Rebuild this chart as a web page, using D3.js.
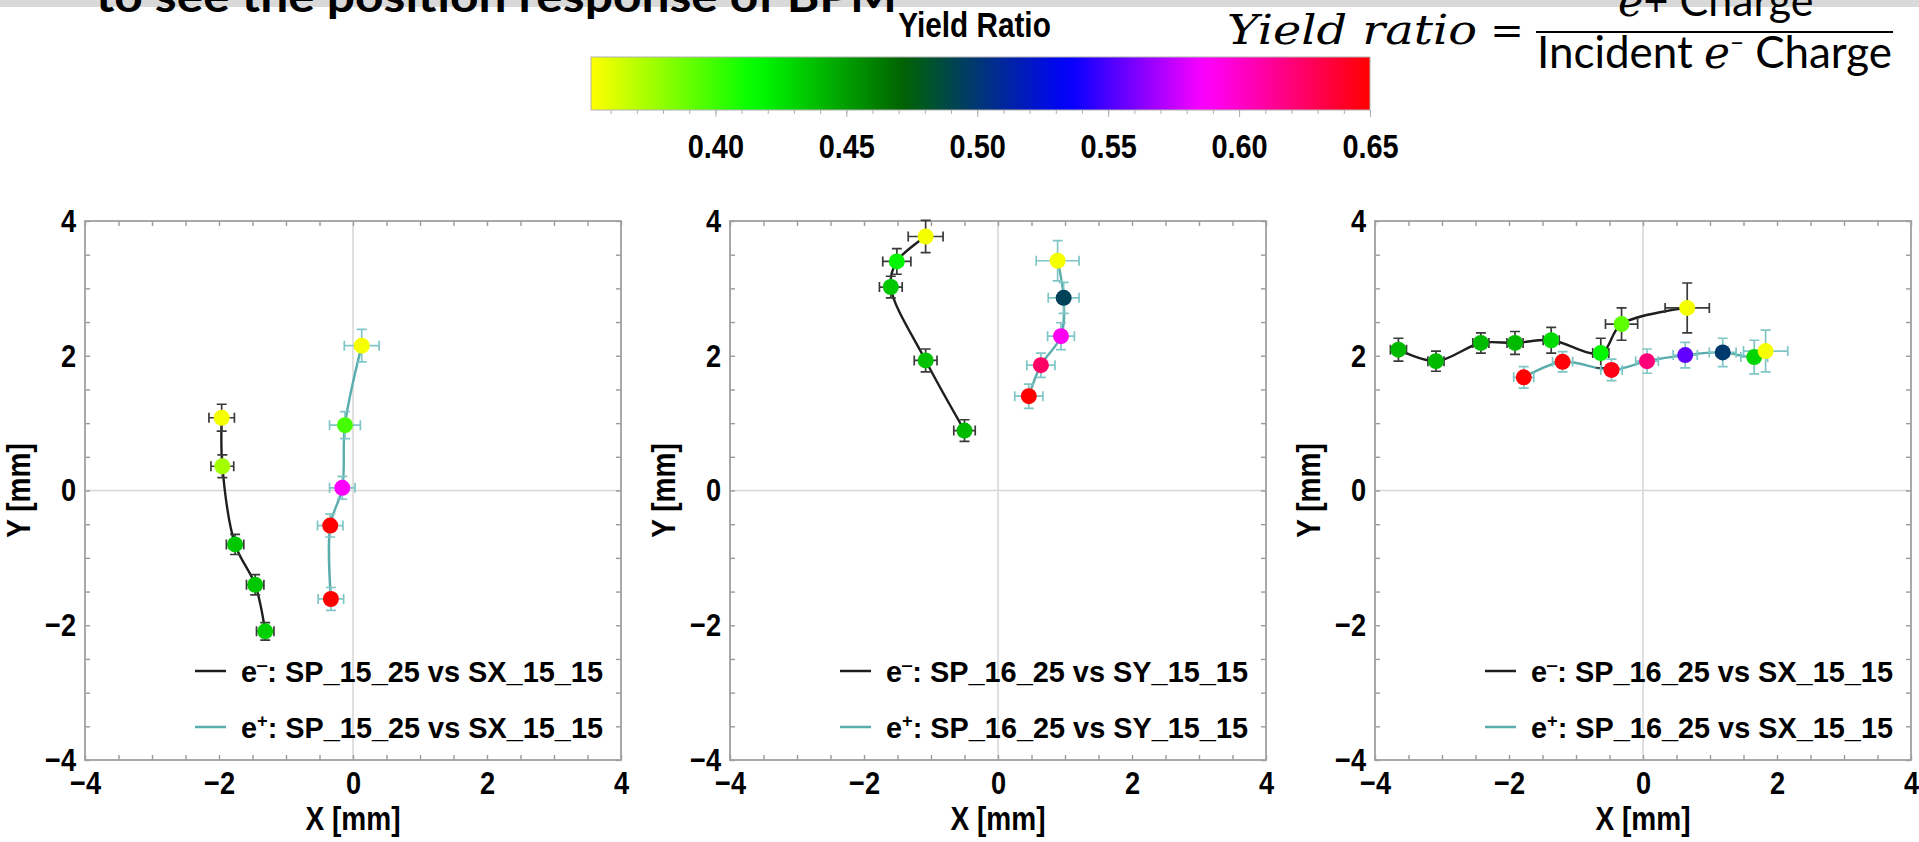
<!DOCTYPE html>
<html>
<head>
<meta charset="utf-8">
<script src="https://cdn.jsdelivr.net/npm/d3@7"></script>
<style>
body { margin: 0; background: #fff; }
svg { display: block; }
.lab { font-family: "Liberation Sans", Arial, sans-serif; font-weight: bold; fill: #000; }
</style>
</head>
<body>
<svg id="chart" width="1919" height="842"></svg>
<script>
// ---- data ----
const axisTicks = [-4, -2, 0, 2, 4];
const ratioTicks = [0.40, 0.45, 0.50, 0.55, 0.60, 0.65];
const ratioStops = [0.3525, 0.415, 0.471, 0.535, 0.587, 0.65];
const ratioColors = ['#ffff00', '#00ff00', '#006400', '#0000ff', '#ff00ff', '#ff0000'];

// x, y in mm; dx, dy error; r = yield ratio (colour)
const p1Minus = [
  {x: -1.96, y: 1.08, dx: 0.19, dy: 0.20, r: 0.355},
  {x: -1.95, y: 0.36, dx: 0.17, dy: 0.17, r: 0.375},
  {x: -1.76, y: -0.80, dx: 0.13, dy: 0.15, r: 0.435},
  {x: -1.46, y: -1.40, dx: 0.13, dy: 0.15, r: 0.435},
  {x: -1.31, y: -2.09, dx: 0.13, dy: 0.13, r: 0.432}
];
const p1Plus = [
  {x: 0.13, y: 2.15, dx: 0.26, dy: 0.24, r: 0.355},
  {x: -0.12, y: 0.97, dx: 0.23, dy: 0.20, r: 0.398},
  {x: -0.16, y: 0.04, dx: 0.19, dy: 0.17, r: 0.587},
  {x: -0.34, y: -0.52, dx: 0.19, dy: 0.17, r: 0.65},
  {x: -0.33, y: -1.61, dx: 0.19, dy: 0.17, r: 0.65}
];
const p2Minus = [
  {x: -1.08, y: 3.77, dx: 0.26, dy: 0.24, r: 0.355},
  {x: -1.51, y: 3.40, dx: 0.21, dy: 0.19, r: 0.418},
  {x: -1.60, y: 3.02, dx: 0.17, dy: 0.16, r: 0.435},
  {x: -1.08, y: 1.93, dx: 0.17, dy: 0.17, r: 0.437},
  {x: -0.50, y: 0.89, dx: 0.16, dy: 0.16, r: 0.44}
];
const p2Plus = [
  {x: 0.89, y: 3.41, dx: 0.32, dy: 0.30, r: 0.355},
  {x: 0.98, y: 2.86, dx: 0.23, dy: 0.23, r: 0.493},
  {x: 0.94, y: 2.29, dx: 0.20, dy: 0.20, r: 0.59},
  {x: 0.64, y: 1.86, dx: 0.21, dy: 0.18, r: 0.625},
  {x: 0.46, y: 1.40, dx: 0.21, dy: 0.18, r: 0.65}
];
const p3Minus = [
  {x: -3.65, y: 2.09, dx: 0.12, dy: 0.17, r: 0.44},
  {x: -3.09, y: 1.92, dx: 0.12, dy: 0.15, r: 0.44},
  {x: -2.42, y: 2.19, dx: 0.12, dy: 0.15, r: 0.44},
  {x: -1.91, y: 2.19, dx: 0.12, dy: 0.17, r: 0.44},
  {x: -1.37, y: 2.23, dx: 0.12, dy: 0.19, r: 0.428},
  {x: -0.63, y: 2.04, dx: 0.12, dy: 0.22, r: 0.418},
  {x: -0.32, y: 2.47, dx: 0.24, dy: 0.24, r: 0.392},
  {x: 0.66, y: 2.71, dx: 0.33, dy: 0.37, r: 0.355}
];
const p3Plus = [
  {x: -1.78, y: 1.68, dx: 0.15, dy: 0.16, r: 0.65},
  {x: -1.20, y: 1.91, dx: 0.15, dy: 0.15, r: 0.648},
  {x: -0.47, y: 1.79, dx: 0.16, dy: 0.16, r: 0.645},
  {x: 0.06, y: 1.92, dx: 0.17, dy: 0.18, r: 0.62},
  {x: 0.63, y: 2.01, dx: 0.18, dy: 0.19, r: 0.555},
  {x: 1.19, y: 2.05, dx: 0.20, dy: 0.21, r: 0.498},
  {x: 1.66, y: 1.98, dx: 0.20, dy: 0.25, r: 0.43},
  {x: 1.83, y: 2.07, dx: 0.33, dy: 0.31, r: 0.355}
];
const legendLabels = [
  'SP_15_25 vs SX_15_15',
  'SP_16_25 vs SY_15_15',
  'SP_16_25 vs SX_15_15'
];

// ---- layout ----
const panelLeft = [85, 730, 1375];
const panelTop = 221, panelW = 536, panelH = 539;
const squeezeK = 0.85;  // condensed look of the plot labels
const minusLine = '#1e1e1e', minusErr = '#3a3a3a';
const plusLine = '#5aadad', plusErr = '#80c6c6';

const svg = d3.select('#chart');
const ratioColor = d3.scaleLinear().domain(ratioStops).range(ratioColors).interpolate(d3.interpolateRgb);

// squeeze text horizontally around its own anchor
function squeeze(sel, k) {
  sel.each(function() {
    const t = d3.select(this);
    const x = +t.attr('x') || 0;
    t.attr('x', x / k).attr('transform', `scale(${k},1)`);
  });
}

// top banner (bottom of the slide title)
svg.append('rect').attr('x', 0).attr('y', 0).attr('width', 1919).attr('height', 7).attr('fill', '#d9d9d9');
svg.append('text')
  .attr('x', 96).attr('y', 12)
  .attr('textLength', 801).attr('lengthAdjust', 'spacingAndGlyphs')
  .style('font-family', 'Lato, "Liberation Sans", sans-serif').style('font-weight', 'bold').style('font-size', '44px')
  .text('to see the position response of BPM');

// formula
svg.append('text')
  .attr('x', 1227).attr('y', 44)
  .attr('textLength', 250).attr('lengthAdjust', 'spacingAndGlyphs')
  .style('font-family', '"DejaVu Serif", serif').style('font-style', 'italic').style('font-size', '41px')
  .text('Yield ratio');
svg.append('text')
  .attr('x', 1507).attr('y', 44).attr('text-anchor', 'middle')
  .style('font-family', '"DejaVu Serif", serif').style('font-size', '40px')
  .text('=');
svg.append('line').attr('x1', 1536).attr('x2', 1893).attr('y1', 32).attr('y2', 32)
  .attr('stroke', '#000').attr('stroke-width', 2);
const num = svg.append('text')
  .attr('x', 1618).attr('y', 16)
  .style('font-family', 'Lato, "Open Sans", sans-serif').style('font-size', '43px');
num.append('tspan').style('font-family', '"DejaVu Serif", serif').style('font-style', 'italic').text('e');
num.append('tspan').text('+ Charge');
const den = svg.append('text')
  .attr('x', 1537).attr('y', 68)
  .attr('textLength', 355).attr('lengthAdjust', 'spacingAndGlyphs')
  .style('font-family', 'Lato, "Open Sans", sans-serif').style('font-size', '44px');
den.append('tspan').text('Incident ');
den.append('tspan').style('font-family', '"DejaVu Serif", serif').style('font-style', 'italic').text('e');
den.append('tspan').attr('dy', -17).style('font-size', '26px').text('\u2012');
den.append('tspan').attr('dy', 17).text(' Charge');

// colour bar
const cbX = 591, cbY = 57, cbW = 779, cbH = 53;
const cScale = d3.scaleLinear().domain([0.3525, 0.65]).range([0, cbW]);
const grad = svg.append('defs').append('linearGradient').attr('id', 'ratioGrad')
  .attr('x1', '0%').attr('x2', '100%').attr('y1', '0%').attr('y2', '0%');
d3.range(0, 1.0001, 0.02).forEach(t => {
  grad.append('stop').attr('offset', (t * 100) + '%').attr('stop-color', ratioColor(0.3525 + t * (0.65 - 0.3525)));
});
const cb = svg.append('g').attr('transform', `translate(${cbX},${cbY})`);
cb.append('rect').attr('width', cbW).attr('height', cbH).attr('fill', 'url(#ratioGrad)')
  .attr('stroke', '#b0b0b0').attr('stroke-width', 1);
const cbMinor = cb.append('g').attr('transform', `translate(0,${cbH})`)
  .call(d3.axisBottom(cScale).tickValues(d3.range(36, 66).map(v => v / 100)).tickSize(4).tickFormat(''));
const cbMajor = cb.append('g').attr('transform', `translate(0,${cbH})`)
  .call(d3.axisBottom(cScale).tickValues(ratioTicks).tickSize(7).tickPadding(17).tickFormat(d3.format('.2f')));
[cbMinor, cbMajor].forEach(a => {
  a.select('.domain').remove();
  a.selectAll('line').attr('stroke', '#b0b0b0');
});
cbMajor.selectAll('text').attr('class', 'lab').style('font-size', '34px').call(squeeze, squeezeK);
cb.append('text').attr('class', 'lab')
  .attr('transform', `translate(${cbW / 2 - 6},-20) scale(${squeezeK},1)`)
  .attr('text-anchor', 'middle')
  .style('font-size', '35px').text('Yield Ratio');

// ---- panels ----
const panelData = [[p1Minus, p1Plus], [p2Minus, p2Plus], [p3Minus, p3Plus]];

panelData.forEach((series, i) => {
  const g = svg.append('g').attr('transform', `translate(${panelLeft[i]},${panelTop})`);
  const x = d3.scaleLinear().domain([-4, 4]).range([0, panelW]);
  const y = d3.scaleLinear().domain([-4, 4]).range([panelH, 0]);

  // zero lines
  g.append('line').attr('x1', x(0)).attr('x2', x(0)).attr('y1', 0).attr('y2', panelH)
    .attr('stroke', '#d6d6d6').attr('stroke-width', 1.5);
  g.append('line').attr('x1', 0).attr('x2', panelW).attr('y1', y(0)).attr('y2', y(0))
    .attr('stroke', '#d6d6d6').attr('stroke-width', 1.5);

  // inner ticks on all four sides
  const minor = d3.range(-4, 4.001, 0.5);
  const tickAxes = [
    g.append('g').attr('transform', `translate(0,${panelH})`).call(d3.axisBottom(x).tickValues(minor).tickSize(-5).tickFormat('')),
    g.append('g').call(d3.axisTop(x).tickValues(minor).tickSize(-5).tickFormat('')),
    g.append('g').call(d3.axisLeft(y).tickValues(minor).tickSize(-5).tickFormat('')),
    g.append('g').attr('transform', `translate(${panelW},0)`).call(d3.axisRight(y).tickValues(minor).tickSize(-5).tickFormat(''))
  ];
  tickAxes.forEach(a => {
    a.select('.domain').remove();
    a.selectAll('line').attr('stroke', '#9a9a9a').attr('stroke-width', 1.4);
  });

  // tick labels
  const xl = g.append('g').attr('transform', `translate(0,${panelH})`)
    .call(d3.axisBottom(x).tickValues(axisTicks).tickSize(0).tickPadding(11).tickFormat(d3.format('d')));
  const yl = g.append('g')
    .call(d3.axisLeft(y).tickValues(axisTicks).tickSize(0).tickPadding(9).tickFormat(d3.format('d')));
  [xl, yl].forEach(a => {
    a.select('.domain').remove();
    a.selectAll('text').attr('class', 'lab').style('font-size', '32px').call(squeeze, squeezeK);
  });

  // frame
  g.append('rect').attr('width', panelW).attr('height', panelH)
    .attr('fill', 'none').attr('stroke', '#a0a0a0').attr('stroke-width', 1.8);

  // axis titles
  g.append('text').attr('class', 'lab')
    .attr('transform', `translate(${panelW / 2},597) scale(${squeezeK},1)`)
    .attr('text-anchor', 'middle').attr('dy', '0.35em')
    .style('font-size', '33px').text('X [mm]');
  g.append('text').attr('class', 'lab')
    .attr('transform', `translate(-67,${y(0)}) rotate(-90) scale(${squeezeK},1)`)
    .attr('text-anchor', 'middle').attr('dy', '0.35em')
    .style('font-size', '33px').text('Y [mm]');

  // series: e- then e+
  const styles = [{line: minusLine, err: minusErr}, {line: plusLine, err: plusErr}];
  const line = d3.line().x(d => x(d.x)).y(d => y(d.y)).curve(d3.curveCatmullRom.alpha(0.5));
  series.forEach((pts, s) => {
    g.append('path').datum(pts).attr('d', line)
      .attr('fill', 'none').attr('stroke', styles[s].line).attr('stroke-width', 2.4);
  });
  series.forEach((pts, s) => {
    const eb = g.append('g').attr('stroke', styles[s].err).attr('stroke-width', 1.7).attr('fill', 'none');
    const cap = 5;
    pts.forEach(d => {
      const cx = x(d.x), cy = y(d.y);
      const x0 = x(d.x - d.dx), x1 = x(d.x + d.dx), y0 = y(d.y - d.dy), y1 = y(d.y + d.dy);
      eb.append('path').attr('d',
        `M${x0},${cy}H${x1}M${x0},${cy - cap}V${cy + cap}M${x1},${cy - cap}V${cy + cap}` +
        `M${cx},${y0}V${y1}M${cx - cap},${y0}H${cx + cap}M${cx - cap},${y1}H${cx + cap}`);
    });
  });
  series.forEach(pts => {
    g.selectAll(null).data(pts).enter().append('circle')
      .attr('cx', d => x(d.x)).attr('cy', d => y(d.y)).attr('r', 8)
      .attr('fill', d => ratioColor(d.r));
  });

  // legend
  [0, 1].forEach(s => {
    const ly = 450 + s * 56;
    g.append('line').attr('x1', 110).attr('x2', 141).attr('y1', ly).attr('y2', ly)
      .attr('stroke', styles[s].line).attr('stroke-width', 2.5);
    const t = g.append('text').attr('class', 'lab').attr('x', 156).attr('y', ly).attr('dy', '0.36em')
      .attr('textLength', 362).attr('lengthAdjust', 'spacingAndGlyphs')
      .style('font-size', '30px');
    t.append('tspan').text('e');
    t.append('tspan').attr('dy', -11).style('font-size', '19px').text(s === 0 ? '\u2012' : '+');
    t.append('tspan').attr('dy', 11).text(': ' + legendLabels[i]);
  });
});
</script>
</body>
</html>
